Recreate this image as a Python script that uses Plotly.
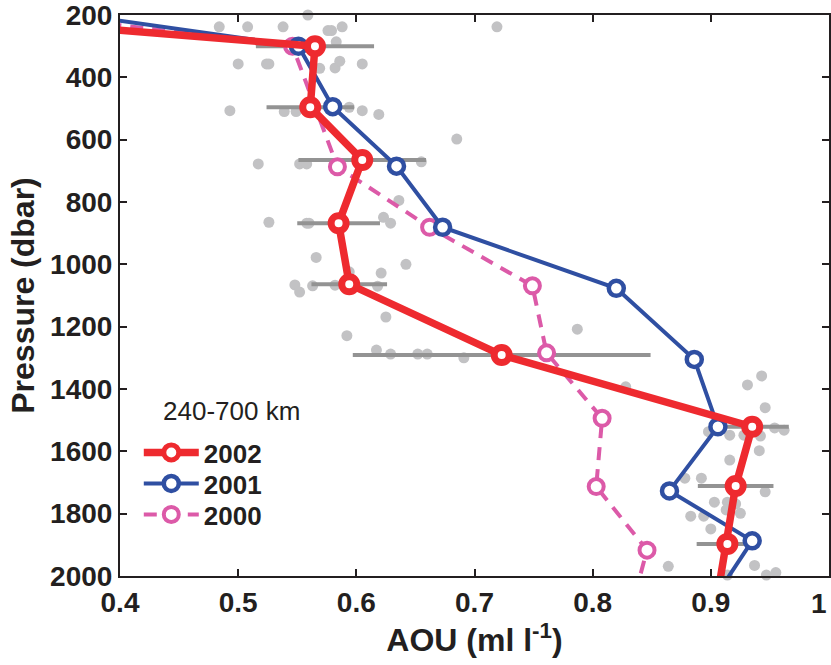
import plotly.graph_objects as go

# ---- data (AOU in ml/l, pressure in dbar) ----
p2002 = [100, 300, 496, 665, 868, 1064, 1291, 1521, 1711, 1897, 2100]
aou2002 = [-0.077, 0.565, 0.561, 0.605, 0.585, 0.594, 0.723, 0.935, 0.921, 0.914, 0.904]

p2001 = [100, 300, 494, 685, 881, 1077, 1305, 1521, 1727, 1887, 2100]
aou2001 = [0.182, 0.551, 0.580, 0.634, 0.673, 0.820, 0.886, 0.906, 0.865, 0.935, 0.898]

p2000 = [100, 300, 687, 881, 1069, 1284, 1494, 1713, 1917, 2100]
aou2000 = [0.113, 0.546, 0.584, 0.662, 0.749, 0.761, 0.808, 0.803, 0.846, 0.833]

# spread (half-width) of 2002 observations at each mean level
bar_p = [300, 496, 665, 868, 1064, 1291, 1521, 1711, 1897]
bar_center = [0.565, 0.561, 0.605, 0.585, 0.594, 0.723, 0.935, 0.921, 0.914]
bar_half = [0.050, 0.037, 0.054, 0.035, 0.032, 0.126, 0.031, 0.032, 0.026]

# individual 2002 observations
obs_aou = [0.559, 0.484, 0.508, 0.538, 0.588, 0.576, 0.579, 0.719, 0.583,
           0.500, 0.524, 0.526, 0.569, 0.582, 0.586, 0.605,
           0.493, 0.539, 0.549, 0.594, 0.605, 0.619, 0.685,
           0.517, 0.552, 0.558, 0.655, 0.636,
           0.526, 0.558, 0.560, 0.623, 0.629,
           0.566, 0.642, 0.621, 0.594,
           0.548, 0.552, 0.563, 0.582, 0.618, 0.625, 0.592,
           0.617, 0.629, 0.652, 0.660, 0.691, 0.787, 0.828,
           0.943, 0.931, 0.946, 0.898, 0.916, 0.928, 0.942, 0.954, 0.962,
           0.941, 0.916, 0.878, 0.892, 0.946, 0.903, 0.914, 0.921, 0.913,
           0.925, 0.883, 0.894, 0.900, 0.864, 0.937, 0.947, 0.955, 0.914]
obs_p = [200, 238, 238, 238, 238, 250, 250, 238, 286,
         357, 357, 357, 371, 370, 348, 357,
         507, 510, 510, 496, 507, 519, 598,
         678, 678, 678, 671, 795,
         865, 868, 868, 849, 868,
         978, 1000, 1028, 1024,
         1066, 1089, 1069, 1067, 1070, 1169, 1229,
         1275, 1288, 1288, 1288, 1300, 1208, 1393,
         1358, 1387, 1460, 1537, 1548, 1548, 1551, 1525, 1532,
         1598, 1628, 1686, 1686, 1730, 1763, 1763, 1769, 1788,
         1799, 1808, 1808, 1849, 1969, 1966, 1997, 1989, 1997]

x_ticks = [0.4, 0.5, 0.6, 0.7, 0.8, 0.9, 1.0]
x_ticktext = ["0.4", "0.5", "0.6", "0.7", "0.8", "0.9", ""]
last_x_label = "1"
y_ticks = [200, 400, 600, 800, 1000, 1200, 1400, 1600, 1800, 2000]

RED = "#ee2a2f"
BLUE = "#2f4fa2"
PINK = "#dc5aa8"
DOT = "#c2c2c4"
BAR = "#939393"
INK = "#231f20"
FONT = "Liberation Sans, Arial, sans-serif"

bar_x, bar_y = [], []
for c, h, p in zip(bar_center, bar_half, bar_p):
    bar_x += [c - h, c + h, None]
    bar_y += [p, p, None]

fig = go.Figure()
fig.add_trace(go.Scatter(x=obs_aou, y=obs_p, mode="markers", showlegend=False,
                         marker=dict(size=11, color=DOT), cliponaxis=False,
                         hoverinfo="skip"))
fig.add_trace(go.Scatter(x=bar_x, y=bar_y, mode="lines", showlegend=False,
                         line=dict(color=BAR, width=4), hoverinfo="skip"))
fig.add_trace(go.Scatter(x=aou2000, y=p2000, mode="lines+markers", name="2000",
                         legend="legend3",
                         line=dict(color=PINK, width=4, dash="13px,9px"),
                         marker=dict(symbol="circle", size=15, color="white",
                                     line=dict(color=PINK, width=4))))
fig.add_trace(go.Scatter(x=aou2001, y=p2001, mode="lines+markers", name="2001",
                         legend="legend2",
                         line=dict(color=BLUE, width=4),
                         marker=dict(symbol="circle", size=15, color="white",
                                     line=dict(color=BLUE, width=4.5))))
fig.add_trace(go.Scatter(x=aou2002, y=p2002, mode="lines+markers", name="2002",
                         legend="legend",
                         line=dict(color=RED, width=7.5),
                         marker=dict(symbol="circle", size=15, color="white",
                                     line=dict(color=RED, width=7))))

axis_common = dict(showline=True, linecolor=INK, linewidth=2, mirror="ticks",
                   ticks="inside", ticklen=7, tickwidth=1.5, tickcolor=INK,
                   showgrid=False, zeroline=False, ticklabeloverflow="allow",
                   tickfont=dict(family=FONT, size=28, color=INK, weight="bold"))

legend_common = dict(x=0.0265, xanchor="left", yanchor="top",
                     bgcolor="rgba(0,0,0,0)", itemwidth=55,
                     font=dict(family=FONT, size=26, color=INK, weight="bold"))

fig.update_layout(
    width=831, height=665,
    margin=dict(l=120, r=0, t=15, b=89),
    paper_bgcolor="white", plot_bgcolor="white",
    xaxis=dict(range=[0.4, 1.0], tickvals=x_ticks, ticktext=x_ticktext,
               title=dict(text="AOU (ml l<sup>-1</sup>)", standoff=8,
                          font=dict(family=FONT, size=32, color=INK, weight="bold")),
               **axis_common),
    yaxis=dict(range=[2000, 200], tickvals=y_ticks,
               title=dict(text="Pressure (dbar)", standoff=6,
                          font=dict(family=FONT, size=32, color=INK, weight="bold")),
               **axis_common),
    legend=dict(y=0.2620, **legend_common),
    legend2=dict(y=0.2067, **legend_common),
    legend3=dict(y=0.1515, **legend_common),
    annotations=[
        dict(text="240-700 km", xref="paper", yref="paper",
             x=(161 - 120) / 711, y=1 - (411 - 15) / 561,
             xanchor="left", yanchor="middle", showarrow=False,
             font=dict(family=FONT, size=26, color=INK)),
        dict(text=last_x_label, xref="x", yref="paper", x=x_ticks[-1], y=0,
             xanchor="right", yanchor="top", yshift=-10, xshift=0,
             showarrow=False,
             font=dict(family=FONT, size=28, color=INK, weight="bold")),
    ],
)

fig.write_html("out.html")
